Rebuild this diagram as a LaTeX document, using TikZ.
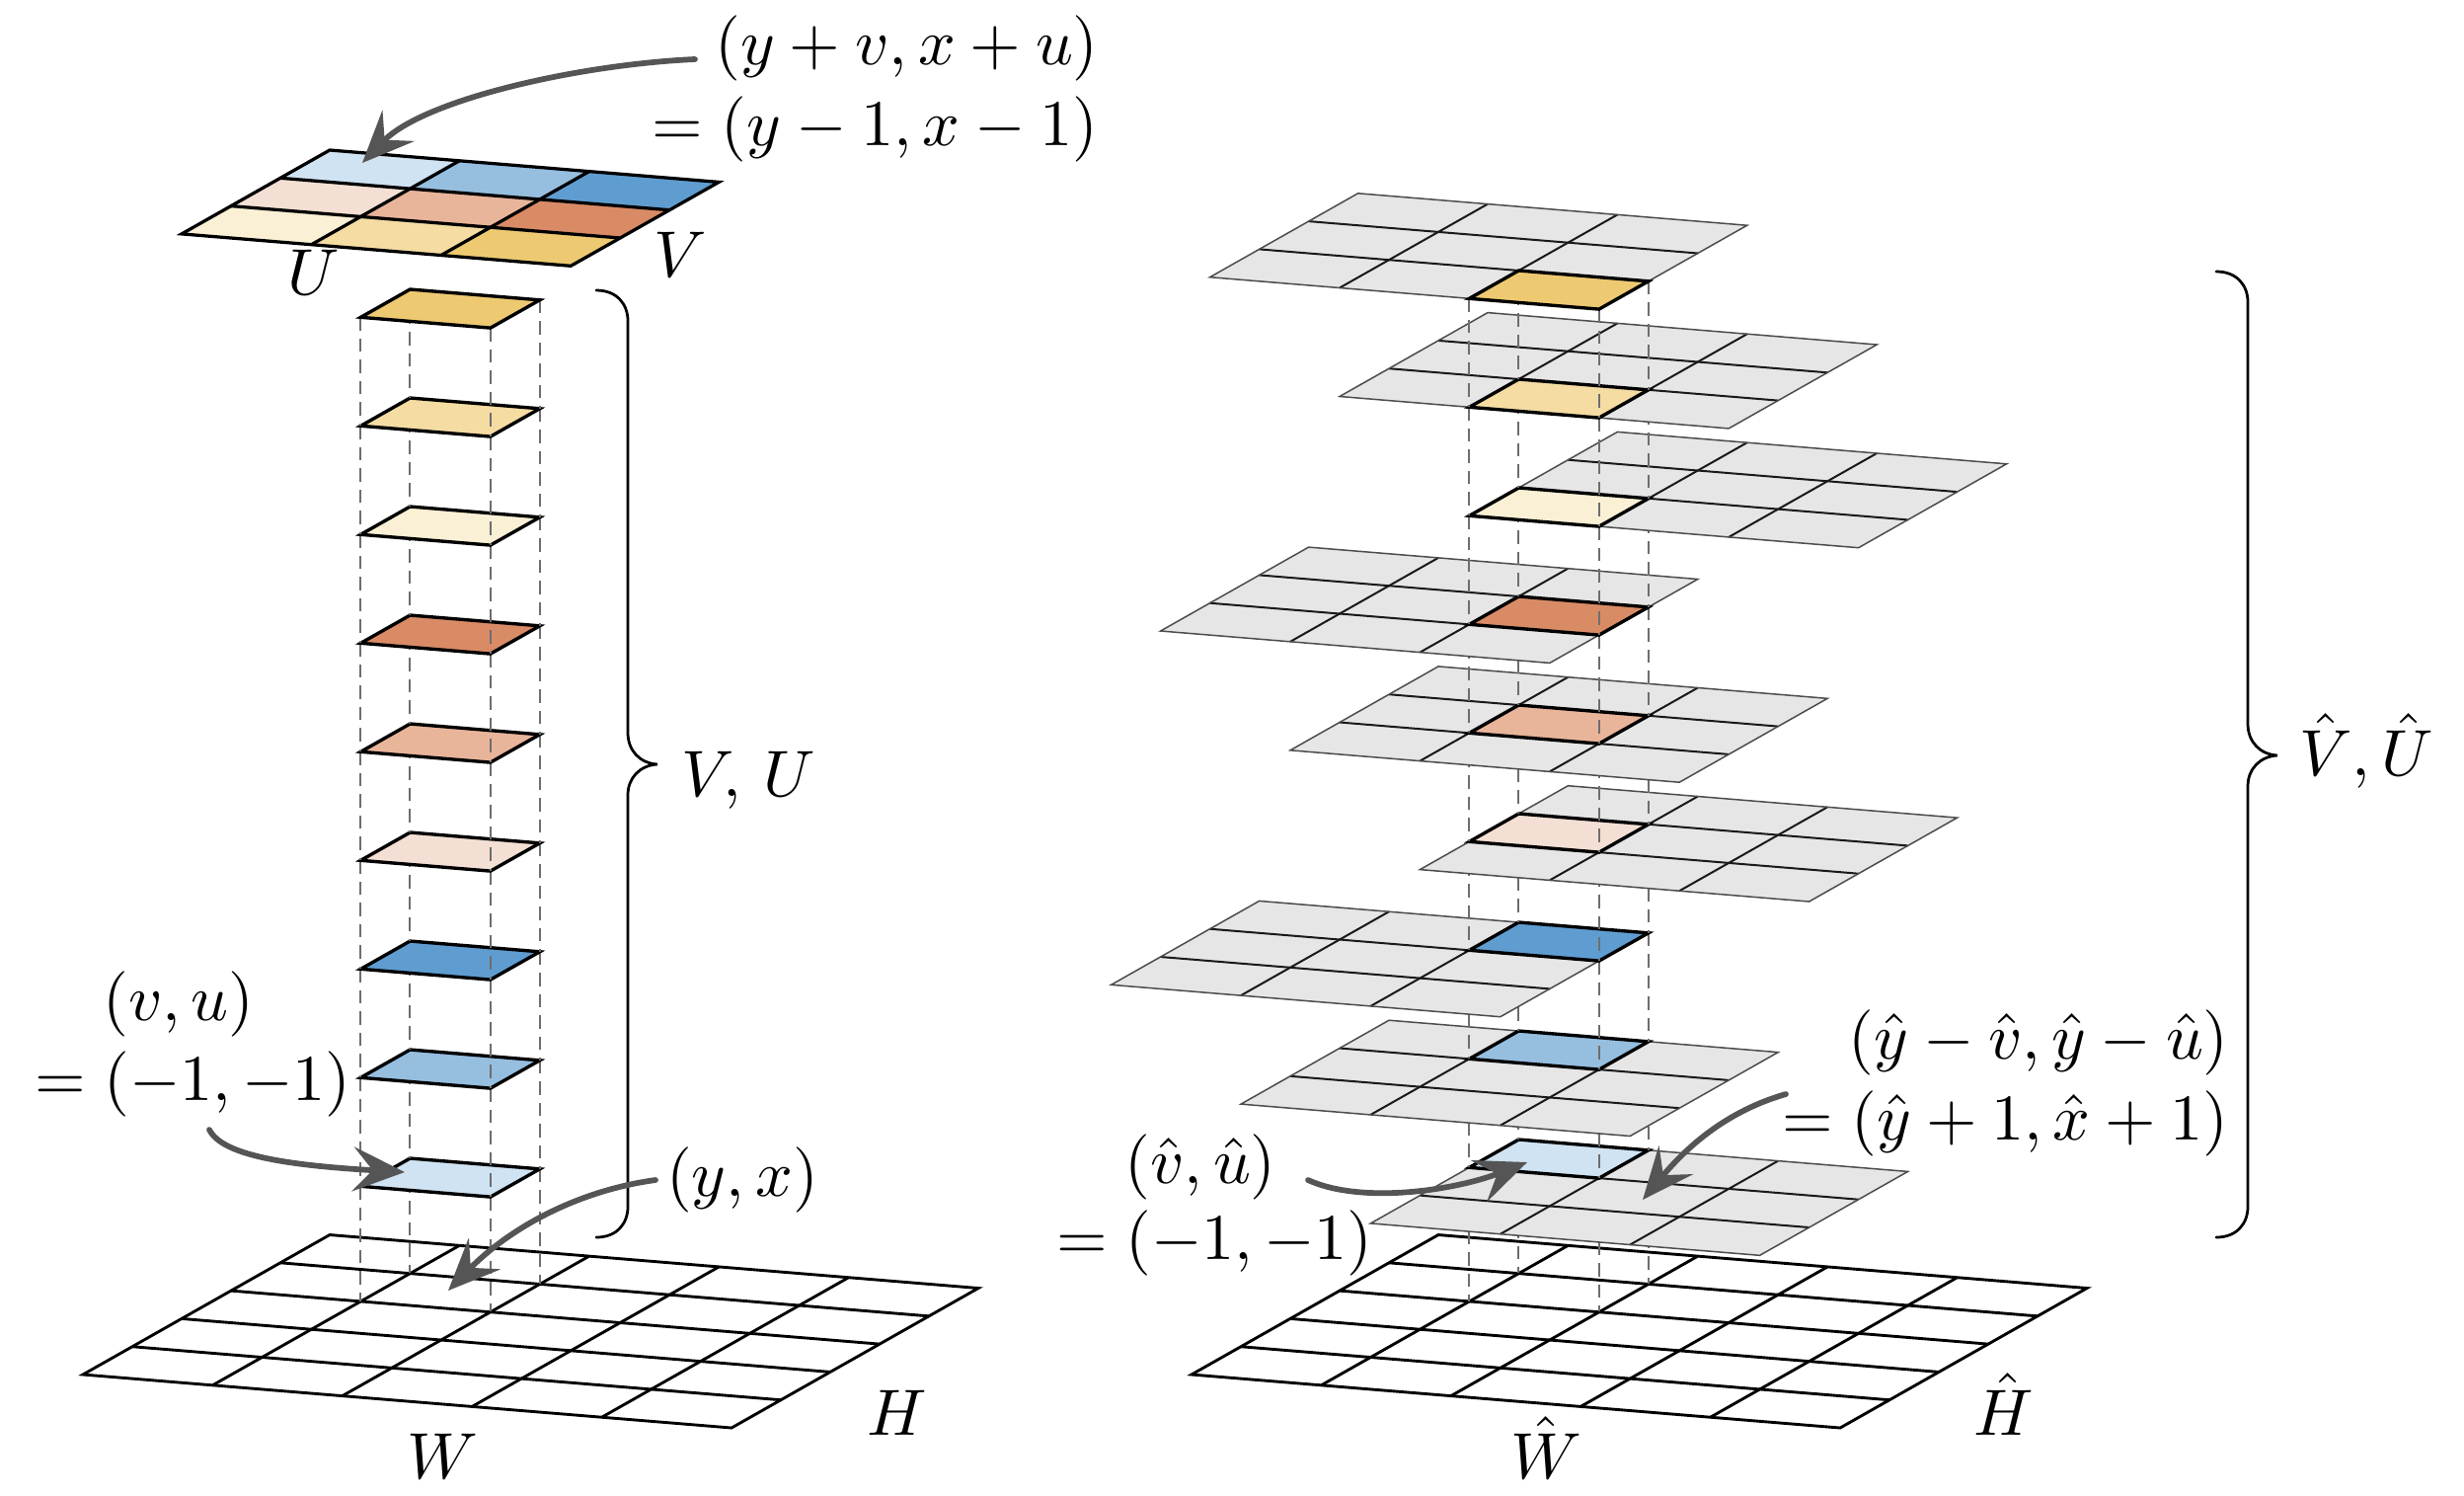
\documentclass[tikz,border=0pt]{standalone}
\usetikzlibrary{arrows.meta}
\definecolor{cA}{HTML}{CFE3F2}
\definecolor{cB}{HTML}{96BEDF}
\definecolor{cC}{HTML}{5F9DD1}
\definecolor{cD}{HTML}{F4DFD4}
\definecolor{cE}{HTML}{E8B59B}
\definecolor{cF}{HTML}{D98B66}
\definecolor{cG}{HTML}{FAF0D5}
\definecolor{cH}{HTML}{F4DCA3}
\definecolor{cI}{HTML}{EDCA72}
\definecolor{cellgrey}{HTML}{E6E6E6}
\definecolor{arrowgrey}{HTML}{555555}
\definecolor{dashgrey}{HTML}{6E6E6E}
\tikzset{
  gridcs/.style={x={(52.56pt,-4.32pt)},y={(-20pt,-11.32pt)}},
  thickgrid/.style={draw=black,line width=1.3pt,line join=miter},
  groundgrid/.style={draw=black,line width=1.15pt,line join=miter},
  greyin/.style={draw=black!90,line width=.8pt},
  greyout/.style={draw=black!70,line width=.6pt,line join=miter},
  hilite/.style={draw=black,line width=1.35pt,line join=miter},
  dashline/.style={draw=dashgrey,line width=.8pt,dash pattern=on 5.4pt off 3.2pt},
  pointer/.style={draw=arrowgrey,line width=2.3pt,line cap=round,
    -{Stealth[length=21pt,width=18pt,inset=8pt,fill=arrowgrey]}},
  bracepath/.style={draw=black,line width=1.1pt,line cap=round},
  lab/.style={scale=2.65,inner sep=0pt,anchor=base},
  labr/.style={scale=2.65,inner sep=0pt,anchor=base east},
}
% #1 x, #2 y of the cell's back-left corner, #3 colour
\newcommand{\patch}[3]{%
  \begin{scope}[shift={(#1,#2)},gridcs]
    \filldraw[fill=#3,hilite] (0,0)--(1,0)--(1,1)--(0,1)--cycle;
  \end{scope}}
% #1 x, #2 y of the cell, #3 col, #4 row, #5 colour
\newcommand{\layergrid}[5]{%
  \begin{scope}[shift={(#1,#2)},gridcs]
    \begin{scope}[shift={(-#3,-#4)}]
      \fill[cellgrey] (0,0)--(3,0)--(3,3)--(0,3)--cycle;
      \foreach \i in {1,2}{
        \draw[greyin] (\i,0)--(\i,3);
        \draw[greyin] (0,\i)--(3,\i);}
      \draw[greyout] (0,0)--(3,0)--(3,3)--(0,3)--cycle;
    \end{scope}
    \filldraw[fill=#5,hilite] (0,0)--(1,0)--(1,1)--(0,1)--cycle;
  \end{scope}}
% #1 x, #2 y upper, #3 y lower of the back-left corner
\newcommand{\drops}[3]{%
  \foreach \dx/\dy in {0/0,131.4/10.8,-50/28.3,81.4/39.1}{
    \draw[dashline] (#1+\dx,#2+\dy) -- (#1+\dx,#3+\dy);}}
\begin{document}
\begin{tikzpicture}[x=.4pt,y=-.4pt]
\useasboundingbox (0,0) rectangle (2496,1514);
% ---------- left ground
\begin{scope}[shift={(334,1250.5)},gridcs]
  \foreach \i in {1,...,4}{
    \draw[groundgrid] (\i,0)--(\i,5);
    \draw[groundgrid] (0,\i)--(5,\i);}
  \draw[groundgrid] (0,0)--(5,0)--(5,5)--(0,5)--cycle;
\end{scope}
% ---------- right ground
\begin{scope}[shift={(1457,1250.5)},gridcs]
  \foreach \i in {1,...,4}{
    \draw[groundgrid] (\i,0)--(\i,5);
    \draw[groundgrid] (0,\i)--(5,\i);}
  \draw[groundgrid] (0,0)--(5,0)--(5,5)--(0,5)--cycle;
\end{scope}
% ---------- left column
\drops{415.4}{1173}{1289.3}
\patch{415.4}{1173}{cA}
\drops{415.4}{1063}{1173}
\patch{415.4}{1063}{cB}
\drops{415.4}{953}{1063}
\patch{415.4}{953}{cC}
\drops{415.4}{843}{953}
\patch{415.4}{843}{cD}
\drops{415.4}{733}{843}
\patch{415.4}{733}{cE}
\drops{415.4}{623}{733}
\patch{415.4}{623}{cF}
\drops{415.4}{513}{623}
\patch{415.4}{513}{cG}
\drops{415.4}{403}{513}
\patch{415.4}{403}{cH}
\drops{415.4}{293}{403}
\patch{415.4}{293}{cI}
% ---------- top colour grid
\begin{scope}[shift={(334,152)},gridcs]
  \fill[cA] (0,0)--(1,0)--(1,1)--(0,1)--cycle;
  \fill[cB] (1,0)--(2,0)--(2,1)--(1,1)--cycle;
  \fill[cC] (2,0)--(3,0)--(3,1)--(2,1)--cycle;
  \fill[cD] (0,1)--(1,1)--(1,2)--(0,2)--cycle;
  \fill[cE] (1,1)--(2,1)--(2,2)--(1,2)--cycle;
  \fill[cF] (2,1)--(3,1)--(3,2)--(2,2)--cycle;
  \fill[cG] (0,2)--(1,2)--(1,3)--(0,3)--cycle;
  \fill[cH] (1,2)--(2,2)--(2,3)--(1,3)--cycle;
  \fill[cI] (2,2)--(3,2)--(3,3)--(2,3)--cycle;
  \foreach \i in {1,2}{
    \draw[thickgrid] (\i,0)--(\i,3);
    \draw[thickgrid] (0,\i)--(3,\i);}
  \draw[thickgrid] (0,0)--(3,0)--(3,3)--(0,3)--cycle;
\end{scope}
% ---------- right stack
\drops{1538.4}{1154}{1289.3}
\layergrid{1538.4}{1154}{0}{0}{cA}
\drops{1538.4}{1044}{1154}
\layergrid{1538.4}{1044}{1}{0}{cB}
\drops{1538.4}{934}{1044}
\layergrid{1538.4}{934}{2}{0}{cC}
\drops{1538.4}{824}{934}
\layergrid{1538.4}{824}{0}{1}{cD}
\drops{1538.4}{714}{824}
\layergrid{1538.4}{714}{1}{1}{cE}
\drops{1538.4}{604}{714}
\layergrid{1538.4}{604}{2}{1}{cF}
\drops{1538.4}{494}{604}
\layergrid{1538.4}{494}{0}{2}{cG}
\drops{1538.4}{384}{494}
\layergrid{1538.4}{384}{1}{2}{cH}
\drops{1538.4}{274}{384}
\layergrid{1538.4}{274}{2}{2}{cI}
% ---------- braces
\draw[bracepath] (604,294) .. controls (625,294) and (636,308) .. (636,325)
  -- (636,742) .. controls (636,760) and (648,773) .. (666,774)
  .. controls (648,775) and (636,788) .. (636,805)
  -- (636,1222) .. controls (636,1239) and (625,1253) .. (604,1253);
\draw[bracepath] (2245,275) .. controls (2266,275) and (2277,289) .. (2277,306)
  -- (2277,733) .. controls (2277,751) and (2289,764) .. (2307,765)
  .. controls (2289,766) and (2277,779) .. (2277,796)
  -- (2277,1222) .. controls (2277,1239) and (2266,1253) .. (2245,1253);
% ---------- labels
\node[labr] (topA) at (1114,65) {$(y+v,x+u)$};
\node[labr] (topB) at (1114,147) {$=(y-1,x-1)$};
\node[lab] (lU) at (318,298) {$U$};
\node[lab] (lV) at (689,280) {$V$};
\node[lab] (lW) at (448,1497) {$W$};
\node[lab] (lH) at (909,1453) {$H$};
\node[lab] (lVU) at (758,806) {$V,\,U$};
\node[lab] (lvu) at (181,1033) {$(v,u)$};
\node[labr] (lone) at (357,1114) {$=(-1,-1)$};
\node[lab] (lyx) at (752,1211) {$(y,x)$};
\node[lab] (hW) at (1566,1497) {$\hat{W}$};
\node[lab] (hH) at (2030,1453) {$\hat{H}$};
\node[lab] (hVU) at (2397,785) {$\hat{V},\hat{U}$};
\node[labr] (hA) at (2259,1072) {$(\hat{y}-\hat{v},\hat{y}-\hat{u})$};
\node[labr] (hB) at (2259,1154) {$=(\hat{y}+1,\hat{x}+1)$};
\node[lab] (hvu) at (1216,1198) {$(\hat{v},\hat{u})$};
\node[labr] (hone) at (1392,1275) {$=(-1,-1)$};
% ---------- arrows
\coordinate (a1s) at (704,60);
\coordinate (a1t) at (367,165);
\coordinate (a2s) at (212,1144);
\coordinate (a2t) at (410,1187);
\coordinate (a3s) at (664,1195);
\coordinate (a3t) at (454,1307);
\coordinate (a4s) at (1325,1195);
\coordinate (a4t) at (1547,1177);
\coordinate (a5s) at (1809,1108);
\coordinate (a5t) at (1664,1215);
\draw[pointer] (a1s) .. controls (590,65) and (430,100) .. (a1t);
\draw[pointer] (a2s) .. controls (225,1170) and (290,1180) .. (a2t);
\draw[pointer] (a3s) .. controls (590,1205) and (520,1240) .. (a3t);
\draw[pointer] (a4s) .. controls (1380,1220) and (1475,1205) .. (a4t);
\draw[pointer] (a5s) .. controls (1750,1125) and (1710,1160) .. (a5t);
\end{tikzpicture}
\end{document}
